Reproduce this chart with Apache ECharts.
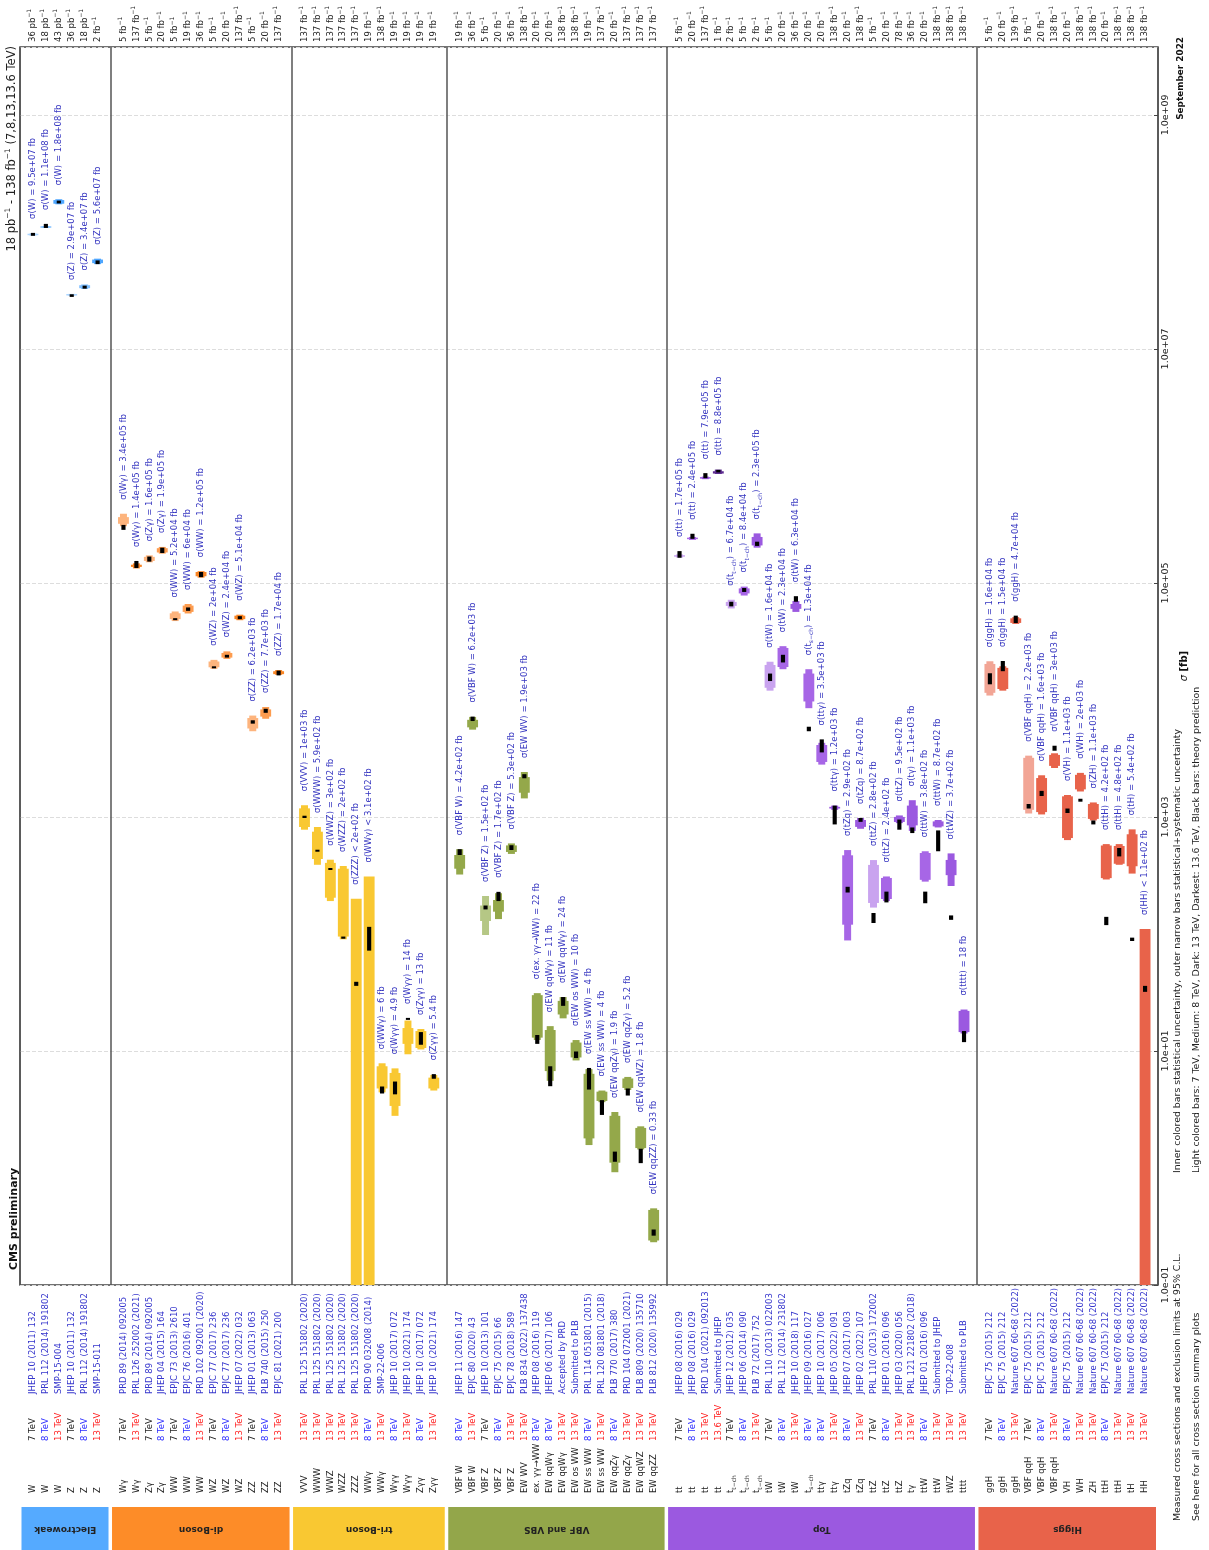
<!DOCTYPE html>
<html><head><meta charset="utf-8">
<script src="https://cdn.jsdelivr.net/npm/echarts@6/dist/echarts.min.js"></script>
<style>html,body{margin:0;padding:0;background:#fff}#c{width:1209px;height:1550px}</style>
</head><body><div id="c"></div>
<script>
// ---------------- data ----------------
const groupNames = ['Electroweak','di-Boson','tri-Boson','VBF and VBS','Top','Higgs'];
const groupSizes = [6,13,11,16,23,13];
const groupColors = ['#55aaff','#fd8c28','#f9c832','#93a64a','#9b59e0','#e8634a'];
const energyPalettes = [
  {7:'#abd5ff',8:'#7fbfff',13:'#4da6ff',13.6:'#2a7fd6'},
  {7:'#fdb47d',8:'#fd9c4f',13:'#f98524',13.6:'#d86a10'},
  {7:'#fbdc80',8:'#f9c832',13:'#f9c832',13.6:'#d9a400'},
  {7:'#b5c785',8:'#94a84a',13:'#94a84a',13.6:'#6d7d30'},
  {7:'#c9a3ef',8:'#a766e6',13:'#9b59e0',13.6:'#5c2b90'},
  {7:'#f2a595',8:'#e8634a',13:'#e8634a',13.6:'#b83a22'}
];
const processes = ['W','W','W','Z','Z','Z',
 'Wγ','Wγ','Zγ','Zγ','WW','WW','WW','WZ','WZ','WZ','ZZ','ZZ','ZZ',
 'VVV','WWW','WWZ','WZZ','ZZZ','WWγ','WWγ','Wγγ','Wγγ','Zγγ','Zγγ',
 'VBF W','VBF W','VBF Z','VBF Z','VBF Z','EW WV','ex. γγ→WW','EW qqWγ','EW qqWγ','EW os WW','EW ss WW','EW ss WW','EW qqZγ','EW qqZγ','EW qqWZ','EW qqZZ',
 'tt','tt','tt','tt','t_{t−ch}','t_{t−ch}','t_{t−ch}','tW','tW','tW','t_{s−ch}','ttγ','ttγ','tZq','tZq','ttZ','ttZ','ttZ','tγ','ttW','ttW','tWZ','tttt',
 'ggH','ggH','ggH','VBF qqH','VBF qqH','VBF qqH','VH','WH','ZH','ttH','ttH','tH','HH'];
const energies = [7,8,13,7,8,13,
 7,13,7,8,7,8,13,7,8,13,7,8,13,
 13,13,13,13,13,8,13,8,13,8,13,
 8,13,7,8,13,13,8,8,13,13,8,13,8,13,13,13,
 7,8,13,13.6,7,8,13,7,8,13,8,8,13,8,13,7,8,13,13,8,13,13,13,
 7,8,13,7,8,13,8,13,13,8,13,13,13];
const references = ['JHEP 10 (2011) 132','PRL 112 (2014) 191802','SMP-15-004','JHEP 10 (2011) 132','PRL 112 (2014) 191802','SMP-15-011',
 'PRD 89 (2014) 092005','PRL 126 252002 (2021)','PRD 89 (2014) 092005','JHEP 04 (2015) 164','EPJC 73 (2013) 2610','EPJC 76 (2016) 401','PRD 102 092001 (2020)','EPJC 77 (2017) 236','EPJC 77 (2017) 236','JHEP 07 (2022) 032','JHEP 01 (2013) 063','PLB 740 (2015) 250','EPJC 81 (2021) 200',
 'PRL 125 151802 (2020)','PRL 125 151802 (2020)','PRL 125 151802 (2020)','PRL 125 151802 (2020)','PRL 125 151802 (2020)','PRD 90 032008 (2014)','SMP-22-006','JHEP 10 (2017) 072','JHEP 10 (2021) 174','JHEP 10 (2017) 072','JHEP 10 (2021) 174',
 'JHEP 11 (2016) 147','EPJC 80 (2020) 43','JHEP 10 (2013) 101','EPJC 75 (2015) 66','EPJC 78 (2018) 589','PLB 834 (2022) 137438','JHEP 08 (2016) 119','JHEP 06 (2017) 106','Accepted by PRD','Submitted to PLB','PRL 114 051801 (2015)','PRL 120 081801 (2018)','PLB 770 (2017) 380','PRD 104 072001 (2021)','PLB 809 (2020) 135710','PLB 812 (2020) 135992',
 'JHEP 08 (2016) 029','JHEP 08 (2016) 029','PRD 104 (2021) 092013','Submitted to JHEP','JHEP 12 (2012) 035','JHEP 06 (2014) 090','PLB 72 (2017) 752','PRL 110 (2013) 022003','PRL 112 (2014) 231802','JHEP 10 (2018) 117','JHEP 09 (2016) 027','JHEP 10 (2017) 006','JHEP 05 (2022) 091','JHEP 07 (2017) 003','JHEP 02 (2022) 107','PRL 110 (2013) 172002','JHEP 01 (2016) 096','JHEP 03 (2020) 056','PRL 121 221802 (2018)','JHEP 01 (2016) 096','Submitted to JHEP','TOP-22-008','Submitted to PLB',
 'EPJC 75 (2015) 212','EPJC 75 (2015) 212','Nature 607 60-68 (2022)','EPJC 75 (2015) 212','EPJC 75 (2015) 212','Nature 607 60-68 (2022)','EPJC 75 (2015) 212','Nature 607 60-68 (2022)','Nature 607 60-68 (2022)','EPJC 75 (2015) 212','Nature 607 60-68 (2022)','Nature 607 60-68 (2022)','Nature 607 60-68 (2022)'];
const luminosities = ['36 pb','18 pb','43 pb','36 pb','18 pb','2 fb',
 '5 fb','137 fb','5 fb','20 fb','5 fb','19 fb','36 fb','5 fb','20 fb','137 fb','5 fb','20 fb','137 fb',
 '137 fb','137 fb','137 fb','137 fb','137 fb','19 fb','138 fb','19 fb','19 fb','19 fb','19 fb',
 '19 fb','36 fb','5 fb','20 fb','36 fb','138 fb','20 fb','20 fb','138 fb','138 fb','19 fb','137 fb','20 fb','137 fb','137 fb','137 fb',
 '5 fb','20 fb','137 fb','1 fb','2 fb','5 fb','2 fb','5 fb','20 fb','36 fb','20 fb','20 fb','138 fb','20 fb','138 fb','5 fb','20 fb','78 fb','36 fb','20 fb','138 fb','138 fb','138 fb',
 '5 fb','20 fb','139 fb','5 fb','20 fb','138 fb','20 fb','138 fb','138 fb','20 fb','138 fb','138 fb','138 fb'];
// measured cross sections [fb] (limits flagged below)
const values = [9.5e7,1.1e8,1.8e8,2.9e7,3.4e7,5.6e7,
 3.4e5,1.4e5,1.6e5,1.9e5,5.2e4,6e4,1.2e5,2e4,2.4e4,5.1e4,6.2e3,7.7e3,1.7e4,
 1e3,5.9e2,3e2,2e2,2e2,3.1e2,6,4.9,14,13,5.4,
 4.2e2,6.2e3,1.5e2,1.7e2,5.3e2,1.9e3,22,11,24,10,4,4,1.9,5.2,1.8,0.33,
 1.7e5,2.4e5,7.9e5,8.8e5,6.7e4,8.4e4,2.3e5,1.6e4,2.3e4,6.3e4,1.3e4,3.5e3,1.2e3,2.9e2,8.7e2,2.8e2,2.4e2,9.5e2,1.1e3,3.8e2,8.7e2,3.7e2,18,
 1.6e4,1.5e4,4.7e4,2.2e3,1.6e3,3e3,1.1e3,2e3,1.1e3,4.2e2,4.8e2,5.4e2,1.1e2];
const limitFlags = [0,0,0,0,0,0, 0,0,0,0,0,0,0,0,0,0,0,0,0, 0,0,0,0,1,1,0,0,0,0,0,
 0,0,0,0,0,0,0,0,0,0,0,0,0,0,0,0, 0,0,0,0,0,0,0,0,0,0,0,0,0,0,0,0,0,0,0,0,0,0,0, 0,0,0,0,0,0,0,0,0,0,0,0,1];
const statLow = [9.4e7,1.09e8,1.74e8,2.88e7,3.3e7,5.4e7,
 3.2e5,1.37e5,1.54e5,1.82e5,4.9e4,5.65e4,1.14e5,1.9e4,2.3e4,4.9e4,5.7e3,7.2e3,1.66e4,
 820,437,204,95,null,null,4.78,3.39,11.5,10.6,4.78,
 361,5.83e3,129,155,502,1.61e3,13,6.73,20.5,8.8,1.79,3.74,1.11,4.83,1.48,0.24,
 1.68e5,2.38e5,7.85e5,8.6e5,6.36e4,8.13e4,2.09e5,1.27e4,1.91e4,6.0e4,9.7e3,2.95e3,1.18e3,120,822,184,199,906,847,290,830,318,14.5,
 1.15e4,1.24e4,4.55e4,1.15e3,1.1e3,2.73e3,660,1.72e3,962,300,398,379,null];
const statHigh = [9.6e7,1.11e8,1.87e8,2.92e7,3.5e7,5.8e7,
 3.65e5,1.43e5,1.67e5,1.98e5,5.5e4,6.4e4,1.24e5,2.13e4,2.52e4,5.25e4,7.0e3,8.3e3,1.76e4,
 1184,748,405,361,null,null,7.4,6.49,15.7,14.8,5.92,
 473,6.76e3,175,195,571,2.19e3,30,15.1,26.8,11.8,6.38,4.49,2.79,5.82,2.2,0.438,
 1.72e5,2.42e5,7.95e5,9.0e5,6.88e4,8.98e4,2.47e5,1.99e4,2.78e4,6.6e4,1.68e4,4.12e3,1.22e3,470,942,389,301,1000,1250,492,916,429,22,
 2.03e4,1.88e4,4.98e4,3.2e3,2.15e3,3.39e3,1.5e3,2.29e3,1.29e3,570,565,711,null];
const totalLow = [9.3e7,1.08e8,1.72e8,2.85e7,3.25e7,5.3e7,
 3.05e5,1.33e5,1.5e5,1.78e5,4.72e4,5.48e4,1.11e5,1.84e4,2.24e4,4.8e4,5.4e3,6.9e3,1.64e4,
 778,390,191,90,null,null,4.43,2.79,9.37,10.3,4.59,
 322,5.57e3,98,134,483,1.44e3,12.4,5.56,19,8.3,1.57,3.65,0.92,4.64,1.44,0.232,
 1.65e5,2.33e5,7.7e5,8.53e5,6.05e4,7.8e4,2.0e5,1.2e4,1.83e4,5.65e4,8.5e3,2.8e3,1.15e3,88,792,168,191,885,760,280,813,257,14.1,
 1.09e4,1.2e4,4.46e4,1.07e3,1.05e3,2.62e3,634,1.65e3,933,292,390,328,null];
const totalHigh = [9.7e7,1.12e8,1.9e8,2.95e7,3.55e7,5.9e7,
 3.9e5,1.47e5,1.72e5,2.03e5,5.7e4,6.6e4,1.26e5,2.2e4,2.6e4,5.35e4,7.35e3,8.7e3,1.8e4,
 1259,820,431,381,null,null,7.85,7.1,18.2,15.4,6.24,
 530,7.16e3,211,223,594,2.42e3,31.2,16.3,28.9,12.4,7.0,4.59,3.01,6.0,2.27,0.452,
 1.75e5,2.47e5,8.1e5,9.3e5,7.18e4,9.3e4,2.65e5,2.12e4,2.88e4,7.0e4,1.83e4,4.3e3,1.25e3,521,980,428,310,1030,1390,509,942,488,22.6,
 2.14e4,1.94e4,5.1e4,3.34e3,2.27e3,3.5e3,1.54e3,2.38e3,1.33e3,586,586,783,null];
const theoryLow = [9.25e7,1.08e8,1.75e8,2.78e7,3.27e7,5.3e7,
 2.84e5,1.34e5,1.52e5,1.8e5,4.85e4,5.77e4,1.12e5,1.88e4,2.3e4,4.9e4,6.27e3,7.76e3,1.62e4,
 979,507,352,91,36,72,4.33,4.26,18.5,11.3,5.79,
 473,6.6e3,162,191,522,2.14e3,11.5,5.0,24.3,8.7,4.68,2.84,1.13,4.16,1.1,0.264,
 1.64e5,2.38e5,7.85e5,8.8e5,6.3e4,8.37e4,2.07e5,1.45e4,2.09e4,6.9e4,5.4e3,3.56e3,863,226,908,124,186,778,728,183,509,132,11.9,
 1.36e4,1.76e4,4.54e4,1.18e3,1.51e3,3.68e3,1.08e3,1.35e3,863,119,460,87,32];
const theoryHigh = [9.8e7,1.17e8,1.85e8,2.93e7,3.47e7,5.7e7,
 3.13e5,1.54e5,1.68e5,2.0e5,4.95e4,6.17e4,1.24e5,1.92e4,2.43e4,5.2e4,6.7e3,8.4e3,1.78e4,
 1024,522,366,95,39,115,4.97,5.48,19.1,14.5,6.34,
 530,7.2e3,175,229,573,2.32e3,13.7,7.4,28.9,9.9,7.16,3.8,1.38,4.78,1.46,0.298,
 1.87e5,2.63e5,8.67e5,9.25e5,6.9e4,9.04e4,2.25e5,1.68e4,2.43e4,7.7e4,5.9e3,4.6e3,1250,253,980,151,230,950,813,230,767,144,14.8,
 1.69e4,2.15e4,5.25e4,1.29e3,1.67e3,4.06e3,1.18e3,1.43e3,933,140,543,93,36];
const axisMin = 0.1, axisMax = 3.8e9;

// ---------------- layout helpers ----------------
const FONT = 'DejaVu Sans';
const slotOfItem = [], groupOfItem = [], separatorSlots = [0];
let s = 1;
groupSizes.forEach((n, g) => { for (let k = 0; k < n; k++) { slotOfItem.push(s++); groupOfItem.push(g); } separatorSlots.push(s); s++; });
const nSlots = s;
const slotIds = [], slotItem = [];
for (let k = 0; k < nSlots; k++) { slotIds.push(String(k)); slotItem.push(-1); }
slotOfItem.forEach((sl, i) => { slotItem[sl] = i; });
const sepSet = new Set(separatorSlots);

function richName(p) { return p.replace(/_\{([^}]*)\}/g, '{sub|$1}'); }
function g2(v) {
  const p = Number(v.toPrecision(2));
  const e = Math.floor(Math.log10(p) + 1e-9);
  if (e < -4 || e >= 2) {
    let m = (p / Math.pow(10, e)).toPrecision(2).replace(/\.0$/, '');
    return m + 'e' + (e < 0 ? '-' : '+') + String(Math.abs(e)).padStart(2, '0');
  }
  return String(p);
}

function xAx(extra) {
  return Object.assign({
    type: 'category', data: slotIds, boundaryGap: false, gridIndex: 0,
    axisLine: { show: false, onZero: false }, axisTick: { show: false }, splitLine: { show: false }
  }, extra);
}
const lblBase = { interval: 0, rotate: 90, align: 'left', verticalAlign: 'middle', fontSize: 8.5, fontFamily: FONT };

function renderItem(params, api) {
  const i = params.dataIndex;
  const slot = api.value(0);
  const step = api.size([1, 0])[0];
  const xc = api.coord([slot, values[i]])[0];
  const yOf = v => api.coord([slot, v])[1];
  const color = energyPalettes[groupOfItem[i]][energies[i]];
  const wide = step * 0.84, narrow = step * 0.54, thW = step * 0.32;
  const kids = [];
  const rect = (x, y0, y1, w, c, minH) => {
    let top = Math.min(y0, y1), h = Math.abs(y1 - y0);
    if (h < minH) { top -= (minH - h) / 2; h = minH; }
    return { type: 'rect', shape: { x: x - w / 2, y: top, width: w, height: h }, style: { fill: c } };
  };
  let top;
  if (limitFlags[i]) {
    const y0 = yOf(axisMin), y1 = yOf(values[i]);
    kids.push(rect(xc, y1, y0, wide, color, 1));
    top = y1;
  } else {
    const t1 = yOf(totalHigh[i]), t0 = yOf(totalLow[i]);
    kids.push(rect(xc, t1, t0, narrow, color, 1.5));
    const s1 = yOf(statHigh[i]), s0 = yOf(statLow[i]);
    kids.push(rect(xc, s1, s0, wide, color, 1.5));
    top = Math.min(t1, s1);
  }
  const h1 = yOf(theoryHigh[i]), h0 = yOf(theoryLow[i]);
  kids.push(rect(xc, h1, h0, thW, '#000', 2));
  top = Math.min(top, h1);
  const txt = 'σ(' + richName(processes[i]) + ') ' + (limitFlags[i] ? '<' : '=') + ' ' + g2(values[i]) + ' fb';
  kids.push({
    type: 'text', x: xc, y: top - 14, rotation: Math.PI / 2,
    style: { text: txt, fill: '#3535c0', fontSize: 8.5, fontFamily: FONT, align: 'left', verticalAlign: 'middle',
      textAlign: 'left', textVerticalAlign: 'middle',
      rich: { sub: { fontSize: 6, fontFamily: FONT, fill: '#3535c0', verticalAlign: 'bottom', lineHeight: 12 } } }
  });
  return { type: 'group', children: kids };
}

const option = {
  animation: false,
  backgroundColor: '#fff',
  grid: { left: 20, right: 51, top: 47, bottom: 265, show: true, borderColor: '#444', borderWidth: 1.5, containLabel: false },
  xAxis: [
    xAx({ position: 'bottom',
      splitLine: { show: true, interval: (idx) => sepSet.has(idx), lineStyle: { color: '#555', width: 1.5 } },
      axisLabel: Object.assign({}, lblBase, { margin: 109, color: '#3434cc', formatter: (v) => { const i = slotItem[+v]; return i < 0 ? '' : references[i]; } }) }),
    xAx({ position: 'bottom',
      axisLabel: Object.assign({}, lblBase, { margin: 156,
        rich: { r: { color: '#ff2424', fontSize: 8.5, fontFamily: FONT }, b: { color: '#2a2aff', fontSize: 8.5, fontFamily: FONT }, k: { color: '#222', fontSize: 8.5, fontFamily: FONT } },
        formatter: (v) => { const i = slotItem[+v]; if (i < 0) return ''; const e = energies[i]; return '{' + (e >= 13 ? 'r' : e === 8 ? 'b' : 'k') + '|' + e + ' TeV}'; } }) }),
    xAx({ position: 'bottom',
      axisLabel: Object.assign({}, lblBase, { margin: 208, color: '#222', lineHeight: 12,
        rich: { sub: { fontSize: 6, fontFamily: FONT, color: '#222', verticalAlign: 'bottom', lineHeight: 12 } },
        formatter: (v) => { const i = slotItem[+v]; return i < 0 ? '' : richName(processes[i]); } }) })
  ],
  yAxis: {
    type: 'log', logBase: 10, min: axisMin, max: axisMax, interval: 2, position: 'right',
    axisLine: { show: false }, axisTick: { show: true, inside: true, length: 4, lineStyle: { color: '#444' } },
    axisLabel: { rotate: 90, margin: 3, fontSize: 9.5, fontFamily: FONT, color: '#222', showMaxLabel: false,
      formatter: (v) => { const e = Math.log10(v); if (Math.abs(e - Math.round(e)) > 1e-6) return ''; const r = Math.round(e); return '1.0e' + (r < 0 ? '-' : '+') + String(Math.abs(r)).padStart(2, '0'); } },
    splitLine: { show: true, lineStyle: { type: 'dashed', color: '#dddddd', width: 1 } },
    name: '{i|σ} {b|[fb]}', nameLocation: 'middle', nameRotate: 90, nameGap: 20,
    nameTextStyle: { rich: { i: { fontSize: 10, fontFamily: FONT, color: '#111', fontStyle: 'italic' }, b: { fontSize: 10, fontFamily: FONT, color: '#111', fontWeight: 'bold' } } }
  },
  series: [{
    type: 'custom', xAxisIndex: 0, yAxisIndex: 0, renderItem: renderItem, clip: false,
    data: values.map((v, i) => [String(slotOfItem[i]), v])
  }]
};

const chart = echarts.init(document.getElementById('c'), null, { renderer: 'canvas', width: 1209, height: 1550 });
chart.setOption(option);

// decorations positioned through the category axis
const px = sl => chart.convertToPixel({ xAxisIndex: 0 }, String(sl));
const gfx = [];
for (let g = 0; g < groupNames.length; g++) {
  const a = px(separatorSlots[g]), b = px(separatorSlots[g + 1]);
  gfx.push({ type: 'rect', shape: { x: a + 1.5, y: 1507, width: b - a - 3.5, height: 43 }, style: { fill: groupColors[g] }, silent: true });
  gfx.push({ type: 'text', x: (a + b) / 2, y: 1529, rotation: Math.PI,
    style: { text: groupNames[g], font: 'bold 9px "DejaVu Sans"', fill: '#222', align: 'center', verticalAlign: 'middle', textAlign: 'center', textVerticalAlign: 'middle' } });
}
function vtext(x, y, text, font, align, fill, rich) {
  return { type: 'text', x: x, y: y, rotation: Math.PI / 2,
    style: { text: text, font: font, fill: fill || '#222', align: align, verticalAlign: 'middle', textAlign: align, textVerticalAlign: 'middle', rich: rich } };
}
const supL = { s: { fontSize: 6, fontFamily: FONT, fill: '#222', verticalAlign: 'top', lineHeight: 12 } };
slotOfItem.forEach((sl, i) => {
  gfx.push(vtext(px(sl), 42, luminosities[i] + '{s|−1}', '8.5px "DejaVu Sans"', 'left', '#222', supL));
});
const supR = { s: { fontSize: 7.5, fontFamily: FONT, fill: '#222', verticalAlign: 'top', lineHeight: 15 } };
gfx.push(vtext(12, 46, '18 pb{s|−1} - 138 fb{s|−1} (7,8,13,13.6 TeV)', '11.5px "DejaVu Sans"', 'right', '#222', supR));
gfx.push(vtext(14, 1270, 'CMS preliminary', 'bold 11px "DejaVu Sans"', 'left', '#111'));
gfx.push(vtext(1181, 37, 'September 2022', 'bold 8.9px "DejaVu Sans"', 'right', '#111'));
gfx.push(vtext(1178, 1173, 'Inner colored bars statistical uncertainty, outer narrow bars statistical+systematic uncertainty', '9.4px "DejaVu Sans"', 'left', '#222'));
gfx.push(vtext(1197, 1173, 'Light colored bars: 7 TeV, Medium: 8 TeV, Dark: 13 TeV, Darkest: 13.6 TeV, Black bars: theory prediction', '9.4px "DejaVu Sans"', 'left', '#222'));
gfx.push(vtext(1178, 1521, 'Measured cross sections and exclusion limits at 95% C.L.', '9.4px "DejaVu Sans"', 'left', '#222'));
gfx.push(vtext(1197, 1521, 'See here for all cross section summary plots', '9.4px "DejaVu Sans"', 'left', '#222'));
chart.setOption({ graphic: gfx });
</script>
</body></html>
